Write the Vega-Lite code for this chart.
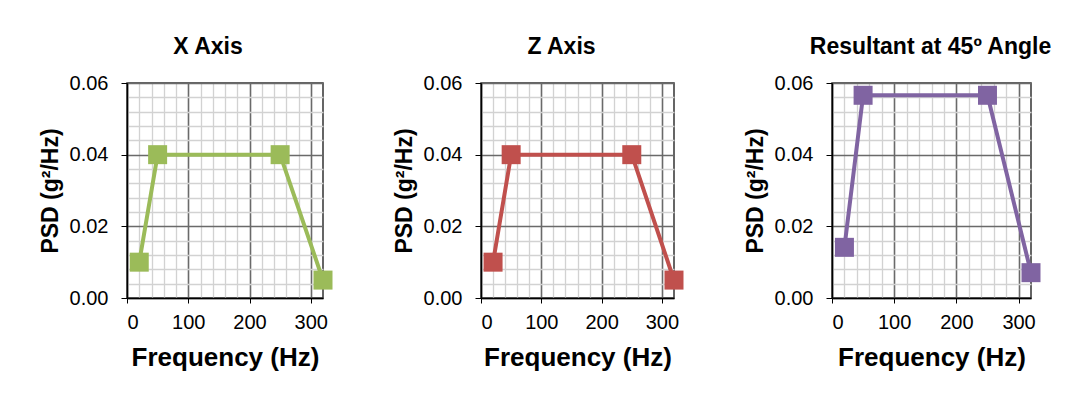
{
  "$schema": "https://vega.github.io/schema/vega-lite/v6.json",
  "background": "white",
  "padding": {"left": 38, "top": 35, "right": 5, "bottom": 5},
  "bounds": "flush",
  "spacing": 158,
  "datasets": {
    "xaxis": [
      {"freq": 20, "psd": 0.01},
      {"freq": 50, "psd": 0.04},
      {"freq": 250, "psd": 0.04},
      {"freq": 320, "psd": 0.005}
    ],
    "zaxis": [
      {"freq": 20, "psd": 0.01},
      {"freq": 50, "psd": 0.04},
      {"freq": 250, "psd": 0.04},
      {"freq": 320, "psd": 0.005}
    ],
    "resultant": [
      {"freq": 20, "psd": 0.01414},
      {"freq": 50, "psd": 0.05657},
      {"freq": 250, "psd": 0.05657},
      {"freq": 320, "psd": 0.00707}
    ]
  },
  "config": {
    "font": "Liberation Sans",
    "view": {"stroke": "#333333", "strokeWidth": 1.5},
    "title": {"font": "Liberation Sans", "fontSize": 23, "fontWeight": "bold", "color": "black", "offset": 14},
    "axis": {
      "labelFont": "Liberation Sans",
      "labelFontSize": 20,
      "labelColor": "black",
      "titleFont": "Liberation Sans",
      "titleFontWeight": "bold",
      "titleColor": "black",
      "domainColor": "black",
      "domainWidth": 1.5,
      "tickColor": "black",
      "gridColor": "#6a6a6a",
      "gridWidth": 1.6
    },
    "axisX": {"tickSize": 5, "labelPadding": 9, "titleFontSize": 26, "titlePadding": 12},
    "axisY": {"tickSize": 6, "labelPadding": 13, "titleFontSize": 23, "titlePadding": 7}
  },
  "hconcat": [
    {
      "width": 196, "height": 215,
      "title": {"text": "X Axis", "dx": -17},
      "data": {"name": "xaxis"},
      "resolve": {"axis": {"x": "independent", "y": "independent"}},
      "layer": [
        {
          "mark": {"type": "line", "color": "#9BBB59", "strokeWidth": 4},
          "encoding": {
            "x": {"field": "freq", "type": "quantitative", "scale": {"domain": [0, 320], "nice": false},
                  "axis": {"orient": "bottom", "title": null, "labels": false, "ticks": false, "domain": false, "grid": true, "gridColor": "#d2d2d2", "gridWidth": 1.3, "values": [20,40,60,80,120,140,160,180,220,240,260,280]}},
            "y": {"field": "psd", "type": "quantitative", "scale": {"domain": [0, 0.06], "nice": false},
                  "axis": {"orient": "left", "title": null, "labels": false, "ticks": false, "domain": false, "grid": true, "gridColor": "#d2d2d2", "gridWidth": 1.3, "values": [0.004,0.008,0.012,0.016,0.024,0.028,0.032,0.036,0.044,0.048,0.052,0.056]}}
          }
        },
        {
          "mark": {"type": "point", "shape": "square", "filled": true, "opacity": 1, "size": 361, "color": "#9BBB59"},
          "encoding": {
            "x": {"field": "freq", "type": "quantitative", "axis": {"orient": "bottom", "grid": true, "title": "Frequency (Hz)", "values": [0, 100, 200, 300]}},
            "y": {"field": "psd", "type": "quantitative", "axis": {"orient": "left", "grid": true, "title": "PSD (g²/Hz)", "values": [0, 0.02, 0.04, 0.06], "format": ".2f"}}
          }
        }
      ]
    },
    {
      "width": 193, "height": 215,
      "title": {"text": "Z Axis", "dx": -16},
      "data": {"name": "zaxis"},
      "resolve": {"axis": {"x": "independent", "y": "independent"}},
      "layer": [
        {
          "mark": {"type": "line", "color": "#C0504D", "strokeWidth": 4},
          "encoding": {
            "x": {"field": "freq", "type": "quantitative", "scale": {"domain": [0, 320], "nice": false},
                  "axis": {"orient": "bottom", "title": null, "labels": false, "ticks": false, "domain": false, "grid": true, "gridColor": "#d2d2d2", "gridWidth": 1.3, "values": [20,40,60,80,120,140,160,180,220,240,260,280]}},
            "y": {"field": "psd", "type": "quantitative", "scale": {"domain": [0, 0.06], "nice": false},
                  "axis": {"orient": "left", "title": null, "labels": false, "ticks": false, "domain": false, "grid": true, "gridColor": "#d2d2d2", "gridWidth": 1.3, "values": [0.004,0.008,0.012,0.016,0.024,0.028,0.032,0.036,0.044,0.048,0.052,0.056]}}
          }
        },
        {
          "mark": {"type": "point", "shape": "square", "filled": true, "opacity": 1, "size": 361, "color": "#C0504D"},
          "encoding": {
            "x": {"field": "freq", "type": "quantitative", "axis": {"orient": "bottom", "grid": true, "title": "Frequency (Hz)", "values": [0, 100, 200, 300]}},
            "y": {"field": "psd", "type": "quantitative", "axis": {"orient": "left", "grid": true, "title": "PSD (g²/Hz)", "values": [0, 0.02, 0.04, 0.06], "format": ".2f"}}
          }
        }
      ]
    },
    {
      "width": 199, "height": 215,
      "title": {"text": "Resultant at 45º Angle", "dx": -1},
      "data": {"name": "resultant"},
      "resolve": {"axis": {"x": "independent", "y": "independent"}},
      "layer": [
        {
          "mark": {"type": "line", "color": "#8064A2", "strokeWidth": 4},
          "encoding": {
            "x": {"field": "freq", "type": "quantitative", "scale": {"domain": [0, 320], "nice": false},
                  "axis": {"orient": "bottom", "title": null, "labels": false, "ticks": false, "domain": false, "grid": true, "gridColor": "#d2d2d2", "gridWidth": 1.3, "values": [20,40,60,80,120,140,160,180,220,240,260,280]}},
            "y": {"field": "psd", "type": "quantitative", "scale": {"domain": [0, 0.06], "nice": false},
                  "axis": {"orient": "left", "title": null, "labels": false, "ticks": false, "domain": false, "grid": true, "gridColor": "#d2d2d2", "gridWidth": 1.3, "values": [0.004,0.008,0.012,0.016,0.024,0.028,0.032,0.036,0.044,0.048,0.052,0.056]}}
          }
        },
        {
          "mark": {"type": "point", "shape": "square", "filled": true, "opacity": 1, "size": 361, "color": "#8064A2"},
          "encoding": {
            "x": {"field": "freq", "type": "quantitative", "axis": {"orient": "bottom", "grid": true, "title": "Frequency (Hz)", "values": [0, 100, 200, 300]}},
            "y": {"field": "psd", "type": "quantitative", "axis": {"orient": "left", "grid": true, "title": "PSD (g²/Hz)", "values": [0, 0.02, 0.04, 0.06], "format": ".2f"}}
          }
        }
      ]
    }
  ]
}
